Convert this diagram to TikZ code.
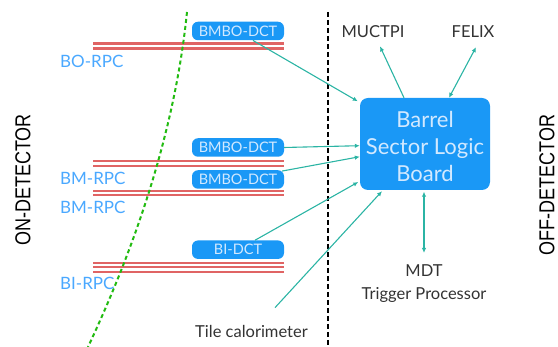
\documentclass[tikz,border=0pt]{standalone}
\usepackage{fontspec}
\setmainfont{Lato}
\newfontfamily\detfont{Liberation Sans}
\usetikzlibrary{arrows.meta,calc}
\definecolor{lblblue}{HTML}{4AA8FF}
\definecolor{boxblue}{HTML}{1A98F6}
\definecolor{boxtext}{HTML}{D2E9FF}
\definecolor{rpcred}{HTML}{E06464}
\definecolor{teal2}{HTML}{2BB4A4}
\definecolor{dgreen}{HTML}{22BB11}
\definecolor{darktext}{HTML}{333333}
\tikzset{
  rpclabel/.style={anchor=base west,inner sep=0pt,text=lblblue,font=\fontsize{17}{17}\selectfont},
  dct/.style={rectangle,rounded corners=6pt,fill=boxblue,text=boxtext,minimum width=92pt,minimum height=18.5pt,inner sep=0pt,font=\fontsize{14.5}{14.5}\selectfont},
  dtext/.style={anchor=base,inner sep=0pt,text=darktext,font=\fontsize{16.5}{16.5}\selectfont},
  rpcline/.style={rpcred,line width=2.1pt},
  link/.style={teal2,line width=1.1pt,-{Latex[length=5pt,width=4.5pt]}},
  dlink/.style={teal2,line width=1.1pt,{Latex[length=5pt,width=4.5pt]}-{Latex[length=5pt,width=4.5pt]}},
  detlabel/.style={rotate=90,inner sep=0pt,text=black,font=\detfont\fontsize{18}{18}\selectfont}
}
\begin{document}
\begin{tikzpicture}[x=1pt,y=-1pt]
\useasboundingbox (0,0) rectangle (558,347);
% RPC lines
\foreach \yy in {43.5,48.5,161,165.7,190.7,195.3,262.7,267.3,272}{
  \draw[rpcline] (93,\yy) -- (284,\yy);
}
% green dashed curve
\draw[dgreen,line width=2pt,dash pattern=on 4pt off 3pt] (187,12) .. controls (176.3,117.3) and (143.3,229) .. (88,347);
% black dashed divider
\draw[black,line width=1.3pt,dash pattern=on 5pt off 3pt] (328,12) -- (328,347);
% RPC labels
\node[rpclabel] (bo) at (60,68) {BO-RPC};
\node[rpclabel] (bm1) at (60,184.5) {BM-RPC};
\node[rpclabel] (bm2) at (60,213.5) {BM-RPC};
\node[rpclabel] (bi) at (60,290) {BI-RPC};
% DCT boxes
\node[dct] (d1) at (238,31) {BMBO-DCT};
\node[dct] (d2) at (238,147.5) {BMBO-DCT};
\node[dct] (d3) at (238,179.5) {BMBO-DCT};
\node[dct] (d4) at (238,249.7) {BI-DCT};
% Sector logic board
\node[rectangle,rounded corners=8pt,fill=boxblue,minimum width=130pt,minimum height=92pt,inner sep=0pt] (bsl) at (425,144) {};
\node[anchor=base,inner sep=0pt,align=center,text=boxtext,font=\fontsize{22}{27}\selectfont] (bsltxt) at (425,182) {Barrel\\Sector Logic\\Board};
% off-detector texts
\node[dtext] (mu) at (373,38) {MUCTPI};
\node[dtext] (fx) at (473,38) {FELIX};
\node[dtext] (mdt) at (424,277) {MDT};
\node[dtext] (tp) at (424,300) {Trigger Processor};
\node[anchor=base west,inner sep=0pt,text=darktext,font=\fontsize{16.5}{16.5}\selectfont] (tile) at (195,338) {Tile calorimeter};
% side labels
\node[detlabel] (on) at (23,180) {\scalebox{1}[1.2]{ON-DETECTOR}};
\node[detlabel] (off) at (547,185) {\scalebox{1}[1.2]{OFF-DETECTOR}};
% connectors
\draw[link] ($(d1.south)+(15,0)$) -- ($(bsl.north west)+(-2,3.5)$);
\draw[link] (d2.east) -- ($(bsl.west)+(0,1.7)$);
\draw[link] ($(d3.north east)+(-2,1)$) -- ($(bsl.west)+(0,12.7)$);
\draw[link] ($(d4.north)+(17,0)$) -- ($(bsl.west)+(-1.5,38)$);
\draw[link] ($(tile.north west)+(80,-18)$) -- ($(bsl.south)+(-43,1)$);
\draw[link] ($(bsl.north)+(-21,0)$) -- ($(mu.south)+(7,8)$);
\draw[dlink] ($(bsl.north)+(24,0)$) -- ($(fx.south)+(3,9)$);
\draw[dlink] ($(bsl.south)+(-1,1.5)$) -- ($(mdt.north)+(0,-12)$);
\end{tikzpicture}
\end{document}
